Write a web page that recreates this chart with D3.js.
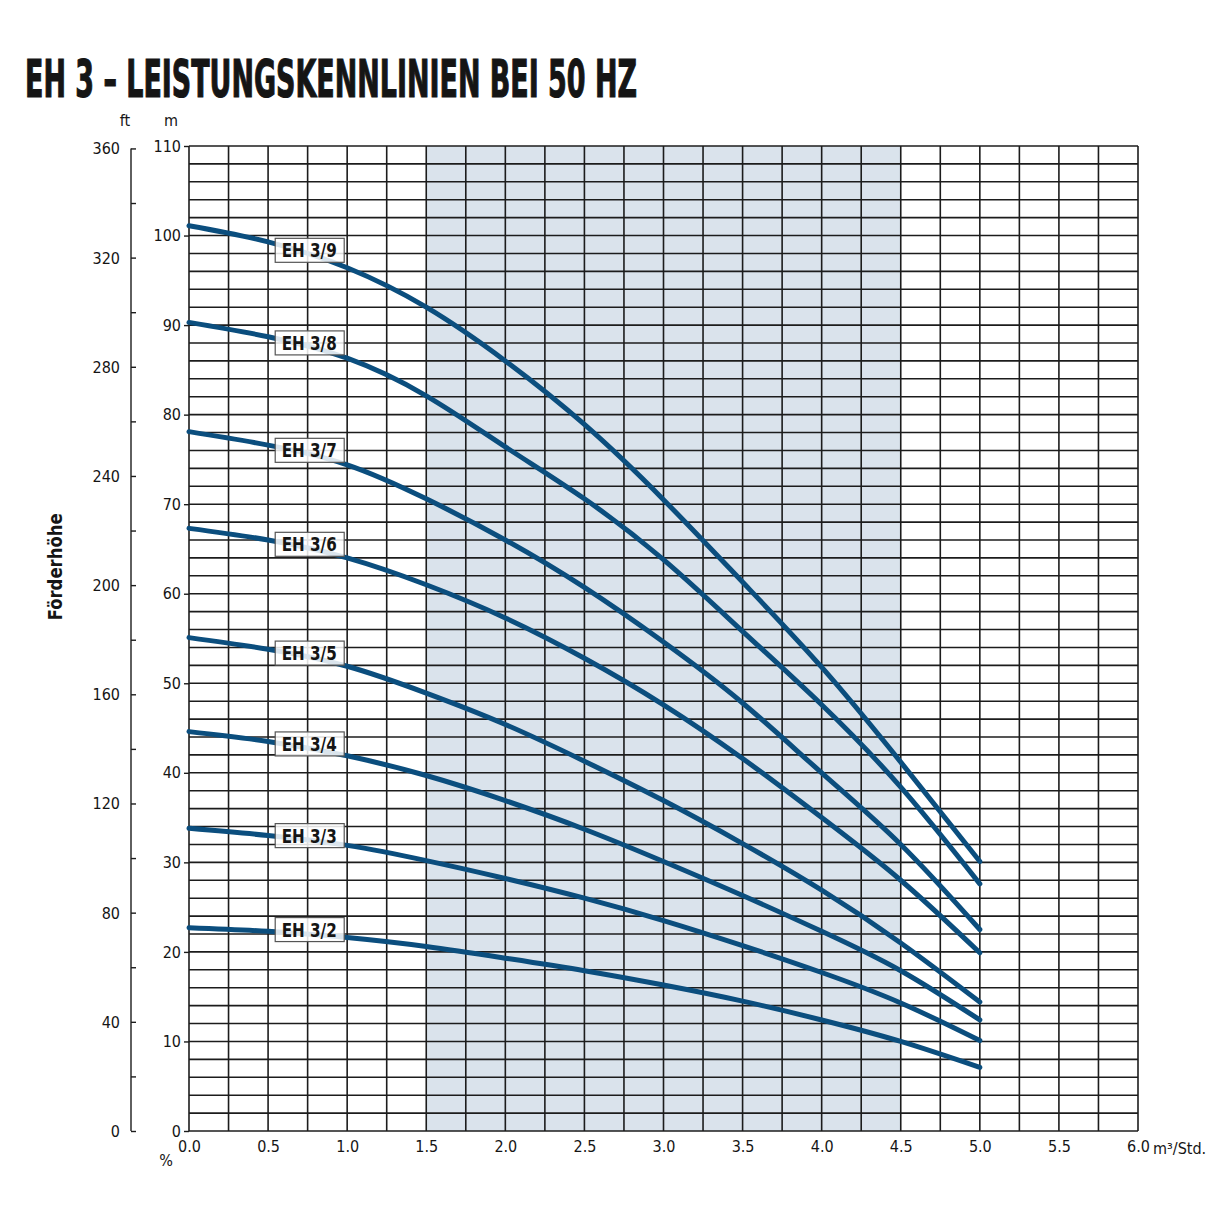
<!DOCTYPE html>
<html>
<head>
<meta charset="utf-8">
<script src="https://cdn.jsdelivr.net/npm/d3@7"></script>
<style>
  body { margin: 0; background: #fff; }
  text { fill: #151515; }
</style>
</head>
<body>
<svg id="chart" width="1214" height="1214"></svg>
<script>
// Fördermenge (m³/Std.) der Messpunkte
const flows = [0, 0.5, 1.0, 1.5, 2.0, 2.5, 3.0, 3.5, 4.0, 4.5, 5.0];

// Förderhöhe (m) je Pumpenstufe
const head39 = [101.1, 99.3, 96.4, 92.0, 86.0, 78.9, 70.5, 61.3, 51.8, 41.2, 30.1];
const head38 = [90.3, 88.7, 86.3, 82.1, 76.4, 70.6, 63.8, 55.8, 47.6, 38.4, 27.6];
const head37 = [78.1, 76.6, 74.4, 70.6, 66.0, 60.7, 54.6, 47.8, 40.0, 32.0, 22.5];
const head36 = [67.3, 66.0, 64.0, 61.0, 57.3, 52.8, 47.6, 41.6, 35.0, 28.0, 19.9];
const head35 = [55.1, 53.8, 51.9, 48.9, 45.4, 41.3, 36.9, 32.1, 26.9, 21.0, 14.4];
const head34 = [44.6, 43.5, 41.9, 39.7, 36.9, 33.7, 30.1, 26.3, 22.3, 17.9, 12.4];
const head33 = [33.8, 33.0, 31.9, 30.2, 28.2, 26.0, 23.5, 20.7, 17.7, 14.3, 10.1];
const head32 = [22.7, 22.3, 21.6, 20.6, 19.3, 17.9, 16.3, 14.5, 12.4, 10.0, 7.1];

const models = ['EH 3/9', 'EH 3/8', 'EH 3/7', 'EH 3/6', 'EH 3/5', 'EH 3/4', 'EH 3/3', 'EH 3/2'];
const heads = [head39, head38, head37, head36, head35, head34, head33, head32];

// Achsenbeschriftungen
const xTicks = [0, 0.5, 1.0, 1.5, 2.0, 2.5, 3.0, 3.5, 4.0, 4.5, 5.0, 5.5, 6.0];
const mTicks = [0, 10, 20, 30, 40, 50, 60, 70, 80, 90, 100, 110];
const ftTicks = [0, 40, 80, 120, 160, 200, 240, 280, 320, 360];

// bevorzugter Betriebsbereich
const bandRange = [1.5, 4.5];

const title = 'EH 3 – LEISTUNGSKENNLINIEN BEI 50 HZ';
const narrow = '"DejaVu Sans Condensed", "DejaVu Sans", sans-serif';

const svg = d3.select('#chart');

// Skalen
const x = d3.scaleLinear().domain([0, 6]).range([189, 1138]);
const y = d3.scaleLinear().domain([0, 110]).range([1131, 146]);
const yFt = d3.scaleLinear().domain([0, 110 / 0.3048]).range([1131, 146]);

// Titel
svg.append('text')
    .attr('x', 25).attr('y', 97)
    .attr('textLength', 612).attr('lengthAdjust', 'spacingAndGlyphs')
    .style('font-family', narrow)
    .style('font-weight', 900)
    .style('font-size', '52px')
    .style('stroke', '#151515').style('stroke-width', 1.2)
    .text(title);

// hinterlegter Bereich
svg.append('rect')
    .attr('x', x(bandRange[0])).attr('y', y(110))
    .attr('width', x(bandRange[1]) - x(bandRange[0]))
    .attr('height', y(0) - y(110))
    .attr('fill', '#dae3ec');

// Raster
const grid = svg.append('g').attr('stroke', '#1c1c1c').attr('stroke-width', 1.6);
grid.selectAll('line.v').data(d3.range(0, 6.001, 0.25)).join('line')
    .attr('class', 'v')
    .attr('x1', d => x(d)).attr('x2', d => x(d))
    .attr('y1', y(110)).attr('y2', y(0));
grid.selectAll('line.h').data(d3.range(0, 110.001, 2)).join('line')
    .attr('class', 'h')
    .attr('x1', x(0)).attr('x2', x(6))
    .attr('y1', d => y(d)).attr('y2', d => y(d));

// m-Achse
const mAxis = svg.append('g')
    .attr('transform', `translate(${x(0)},0)`)
    .call(d3.axisLeft(y).tickValues(mTicks).tickSize(5).tickPadding(3).tickFormat(d3.format('d')));
mAxis.select('.domain').remove();
mAxis.selectAll('line').attr('stroke', '#1c1c1c').attr('stroke-width', 1.4);
mAxis.selectAll('text').style('font-family', narrow).style('font-size', '16px').attr('fill', '#151515');

// ft-Achse
const ftAxis = svg.append('g')
    .attr('transform', 'translate(131,0)')
    .call(d3.axisRight(yFt).tickValues(d3.range(0, 361, 20)).tickSize(5).tickFormat(''));
ftAxis.select('.domain').attr('d', `M0,${yFt(360)}V${yFt(0)}`).attr('stroke', '#1c1c1c').attr('stroke-width', 1.4);
ftAxis.selectAll('line').attr('stroke', '#1c1c1c').attr('stroke-width', 1.4);
svg.append('g').selectAll('text').data(ftTicks).join('text')
    .attr('x', 120).attr('y', d => yFt(d) + 6)
    .attr('text-anchor', 'end')
    .style('font-family', narrow).style('font-size', '16px')
    .text(d => d);

// x-Achse
const xAxis = svg.append('g')
    .attr('transform', `translate(0,${y(0)})`)
    .call(d3.axisBottom(x).tickValues(xTicks).tickSize(0).tickPadding(10).tickFormat(d3.format('.1f')));
xAxis.select('.domain').remove();
xAxis.selectAll('text').style('font-family', narrow).style('font-size', '16px').attr('fill', '#151515');

// Einheiten
const unit = (t, px, py, anchor) => svg.append('text')
    .attr('x', px).attr('y', py).attr('text-anchor', anchor || 'middle')
    .style('font-family', narrow).style('font-size', '16px').text(t);
unit('ft', 125, 126);
unit('m', 171, 126);
unit('%', 166, 1166);
unit('m³/Std.', x(6) + 15, y(0) + 23, 'start');

// Achsentitel
svg.append('text')
    .attr('transform', `translate(62,${y(63)}) rotate(-90)`)
    .attr('text-anchor', 'middle')
    .attr('textLength', 107).attr('lengthAdjust', 'spacingAndGlyphs')
    .style('font-family', narrow).style('font-weight', 700).style('font-size', '20px')
    .text('Förderhöhe');

// Kennlinien
const line = d3.line()
    .x((d, i) => x(flows[i]))
    .y(d => y(d))
    .curve(d3.curveNatural);

svg.append('g').selectAll('path').data(heads).join('path')
    .attr('d', line)
    .attr('fill', 'none')
    .attr('stroke', '#0b4e7e')
    .attr('stroke-width', 5)
    .attr('stroke-linecap', 'round');

// Beschriftung der Kennlinien (leicht über der Kurve)
const labelFlow = 0.76;
const labels = svg.append('g').selectAll('g').data(models).join('g')
    .attr('transform', (m, i) => {
        const h = d3.scaleLinear().domain(flows).range(heads[i])(labelFlow);
        return `translate(${x(labelFlow)},${y(h) - 5})`;
    });
labels.append('rect')
    .attr('x', -34).attr('y', -12).attr('width', 69).attr('height', 24)
    .attr('fill', '#fff').attr('fill-opacity', 0.85)
    .attr('stroke', '#555').attr('stroke-width', 1.2);
labels.append('text')
    .attr('text-anchor', 'middle').attr('y', 7)
    .attr('textLength', 55).attr('lengthAdjust', 'spacingAndGlyphs')
    .style('font-family', narrow).style('font-weight', 700).style('font-size', '19px')
    .text(d => d);
</script>
</body>
</html>
